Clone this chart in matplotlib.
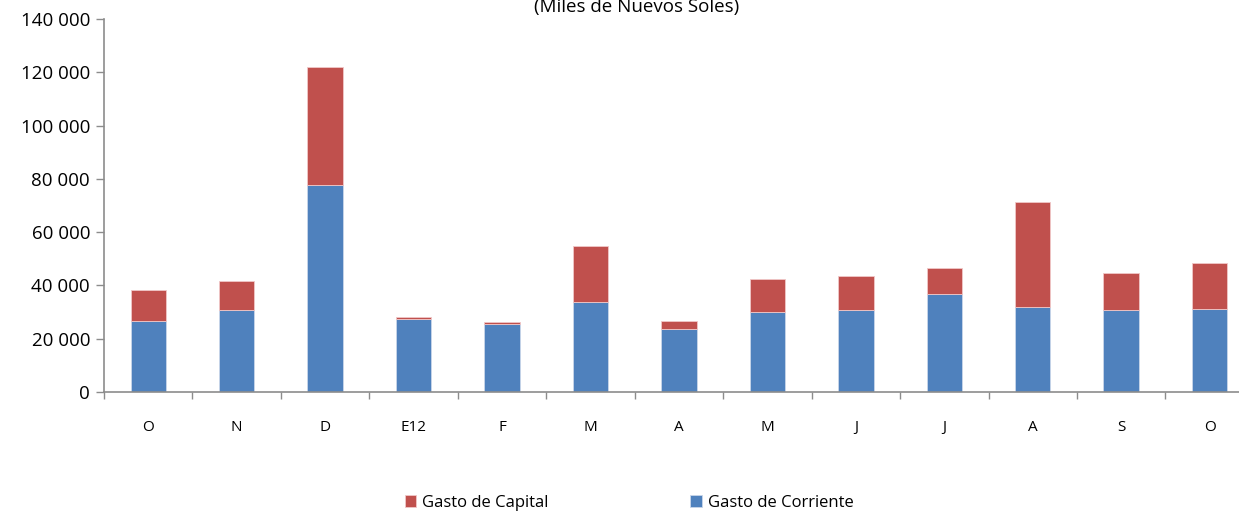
import matplotlib
matplotlib.use("Agg")
import matplotlib.pyplot as plt
import numpy as np
from matplotlib.ticker import FuncFormatter, FixedLocator

categories = ["O", "N", "D", "E12", "F", "M", "A", "M", "J", "J", "A", "S", "O"]
gasto_corriente = [26.7, 30.6, 77.7, 27.5, 25.6, 33.9, 23.7, 30.1, 30.6, 36.9, 32.0, 30.6, 31.2]
totales = [38.2, 41.5, 122.0, 28.1, 26.1, 54.7, 26.7, 42.6, 43.4, 46.5, 71.2, 44.6, 48.5]
gasto_corriente = [v * 1000 for v in gasto_corriente]
gasto_capital = [t * 1000 - c for t, c in zip(totales, gasto_corriente)]

plt.rcParams['font.family'] = ['Open Sans', 'DejaVu Sans']

fig = plt.figure(figsize=(12.39, 5.11), dpi=100)
ax = fig.add_axes([104/1239, 1-392/511, 13*88.45/1239, (392-19)/511])

x = np.arange(len(categories))
blue = "#4F81BD"
red = "#C0504D"
b1 = ax.bar(x, gasto_corriente, width=0.4, color=blue, edgecolor="#c9d6ea", linewidth=0.6, label="Gasto de Corriente")
b2 = ax.bar(x, gasto_capital, width=0.4, bottom=gasto_corriente, color=red, edgecolor="#f0c8c8", linewidth=0.6, label="Gasto de Capital")

ax.set_xlim(-0.5, len(categories) - 0.5)
ax.set_ylim(0, 140000)
ax.set_yticks(np.arange(0, 140001, 20000))
ax.yaxis.set_major_formatter(FuncFormatter(lambda v, p: f"{int(v):,}".replace(",", " ")))
ax.set_xticks(x)
ax.set_xticklabels(categories, fontsize=11)
ax.xaxis.set_minor_locator(FixedLocator(np.arange(-0.5, len(categories), 1)))
ax.tick_params(axis='x', which='major', length=0, pad=20)
ax.tick_params(axis='x', which='minor', length=5, color="#8c8c8c", width=1)
ax.tick_params(axis='y', length=6, color="#8c8c8c", width=1, labelsize=13.5, pad=4)

for s in ["top", "right"]:
    ax.spines[s].set_visible(False)
for s in ["left", "bottom"]:
    ax.spines[s].set_color("#8c8c8c")
    ax.spines[s].set_linewidth(1.2)

fig.text(637/1239, 1 - 12/511, "(Miles de Nuevos Soles)", ha="center", va="baseline", fontsize=13.5)

fig.legend(handles=[b2, b1], labels=["Gasto de Capital", "Gasto de Corriente"],
           loc="center", bbox_to_anchor=(629/1239, 1 - 503/511), ncol=2, frameon=False,
           fontsize=12, columnspacing=8.5, handlelength=0.7, handleheight=0.7, handletextpad=0.35)

fig.savefig("out.png", dpi=100)
